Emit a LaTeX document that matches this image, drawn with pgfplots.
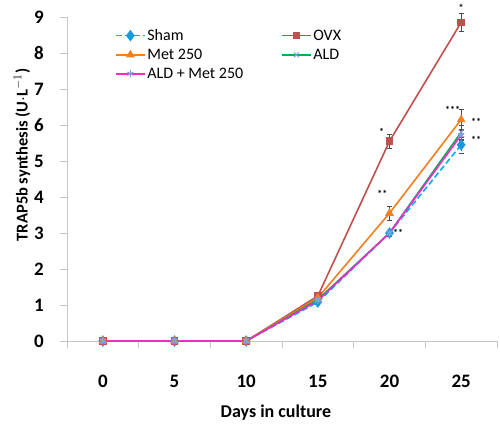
\documentclass[border=0pt]{standalone}
\usepackage{fontspec}
\setmainfont{Carlito}
\usepackage{pgfplots}
\pgfplotsset{compat=1.18}
\definecolor{shamc}{RGB}{0,176,240}
\definecolor{shammk}{RGB}{30,150,225}
\definecolor{ovxc}{RGB}{192,80,77}
\definecolor{metc}{RGB}{240,128,30}
\definecolor{aldc}{RGB}{0,176,80}
\definecolor{almc}{RGB}{250,40,200}
\definecolor{mk}{RGB}{130,160,225}
\begin{document}
\begin{tikzpicture}
\begin{axis}[
  at={(0,0)}, anchor=south west,
  scale only axis, width=430pt, height=324pt,
  xmin=-2.5, xmax=27.5, ymin=0, ymax=9,
  clip=false,
  axis x line*=bottom, axis y line*=left,
  axis line style={gray!45, line width=0.8pt},
  tick style={gray!45, line width=0.8pt},
  tick align=outside, major tick length=7pt,
  xtick={-2.5,2.5,...,27.5},
  xticklabels={0,5,10,15,20,25,},
  xticklabel style={anchor=center, xshift=35.83pt, yshift=-33pt},
  ytick={0,1,...,9},
  yticklabel style={anchor=center, xshift=-21pt},
  ticklabel style={font=\fontsize{19}{22}\selectfont\bfseries},
  /pgf/number format/assume math mode=true,
  xlabel={Days in culture},
  xlabel style={at={(rel axis cs:0.486,0)}, anchor=center, yshift=-72pt, font=\fontsize{18}{21}\selectfont\bfseries},
  ylabel={TRAP5b synthesis (U$\cdot$L$^{-1}$)},
  ylabel style={at={(rel axis cs:0,0.574)}, anchor=center, yshift=45pt, font=\fontsize{16.5}{19}\selectfont\bfseries},
  legend columns=2,
  legend style={draw=none, fill=none, at={(rel axis cs:0.105,0.975)}, anchor=north west,
    font=\fontsize{16}{18}\selectfont, row sep=3pt,
    /tikz/every even column/.append style={column sep=36pt}},
  legend cell align=left,
  legend image code/.code={\draw[mark repeat=2,mark phase=2,#1] plot coordinates {(0cm,0cm) (0.5cm,0cm) (1cm,0cm)};},
  error bars/y dir=both, error bars/y explicit,
  error bars/error bar style={black!70, line width=0.7pt},
  error bars/error mark options={rotate=90, mark size=2.5pt, black!70},
]
\addplot[shamc, dash pattern=on 6pt off 3pt, line width=1.6pt, mark=diamond*, mark size=4.5pt, mark options={solid, fill=shammk, draw=shammk}]
  coordinates {(0,0) +- (0,0) (5,0) +- (0,0) (10,0) +- (0,0) (15,1.08) +- (0,0.05) (20,3.0) +- (0,0.08) (25,5.45) +- (0,0.22)};
\addlegendentry{Sham}
\addplot[ovxc, line width=1.6pt, mark=square*, mark size=3pt, mark options={fill=ovxc}]
  coordinates {(0,0) +- (0,0) (5,0) +- (0,0) (10,0) +- (0,0) (15,1.25) +- (0,0.05) (20,5.55) +- (0,0.2) (25,8.85) +- (0,0.25)};
\addlegendentry{OVX}
\addplot[metc, line width=1.6pt, mark=triangle*, mark size=3.5pt, mark options={fill=metc}]
  coordinates {(0,0) +- (0,0) (5,0) +- (0,0) (10,0) +- (0,0) (15,1.2) +- (0,0.05) (20,3.55) +- (0,0.2) (25,6.15) +- (0,0.3)};
\addlegendentry{Met 250}
\addplot[aldc, line width=1.6pt, mark=x, mark size=3.5pt, mark options={draw=mk, line width=1pt}]
  coordinates {(0,0) +- (0,0) (5,0) +- (0,0) (10,0) +- (0,0) (15,1.15) +- (0,0.05) (20,3.0) +- (0,0.08) (25,5.8) +- (0,0.2)};
\addlegendentry{ALD}
\addplot[almc, line width=1.6pt, mark=asterisk, mark size=3.5pt, mark options={draw=mk, line width=1pt}]
  coordinates {(0,0) +- (0,0) (5,0) +- (0,0) (10,0) +- (0,0) (15,1.12) +- (0,0.05) (20,3.0) +- (0,0.08) (25,5.72) +- (0,0.15)};
\addlegendentry{ALD + Met 250}
\node[font=\fontsize{10}{10}\selectfont\bfseries] at (axis cs:25,9.25) {*};
\node[font=\fontsize{10}{10}\selectfont\bfseries] at (axis cs:19.45,5.8) {*};
\node[font=\fontsize{10}{10}\selectfont\bfseries] at (axis cs:19.5,4.08) {**};
\node[font=\fontsize{10}{10}\selectfont\bfseries] at (axis cs:20.6,3.0) {**};
\node[font=\fontsize{10}{10}\selectfont\bfseries] at (axis cs:24.4,6.42) {***};
\node[font=\fontsize{10}{10}\selectfont\bfseries] at (axis cs:26.05,6.08) {**};
\node[font=\fontsize{10}{10}\selectfont\bfseries] at (axis cs:26.05,5.58) {**};
\end{axis}
\pgfresetboundingbox
\path[use as bounding box] (-67pt,-85pt) rectangle (433pt,341pt);
\end{tikzpicture}
\end{document}
